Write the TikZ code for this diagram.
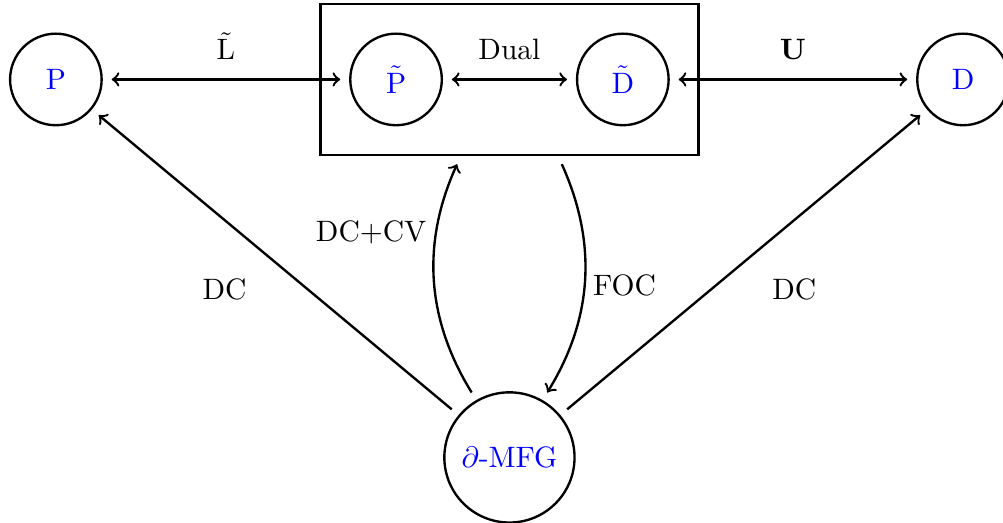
\documentclass[tikz,border=0pt]{standalone}
\usepackage{tikz}
\usetikzlibrary{calc,fit,positioning}

\begin{document}
\begin{tikzpicture}[thick,
        state/.style={circle,draw,text=blue,minimum size=1.09cm},
        link/.style={shorten >=3pt,shorten <=3pt}]
        \useasboundingbox (-0.665,-5.28) rectangle (11.276,0.946);
        \node[state] (P) at (0,0) {P};
        \node[state] (Pt) at (4.05,0) {$\tilde{\mathrm{P}}$};
        \node[state] (Dt) at (6.75,0) {$\tilde{\mathrm{D}}$};
        \node[state] (D) at (10.8,0) {D};
        \node[state,minimum size=1.55cm] (MFG) at (5.4,-4.5) {$\partial$-MFG};
        \node[draw,fit=(Pt)(Dt),inner sep=0.34cm] (box) {};
        \draw[<->,link] (P) -- node[above=3pt] {$\tilde{\mathrm{L}}$} (Pt);
        \draw[<->,link] (Pt) -- node[above=3pt] {Dual} (Dt);
        \draw[<->,link] (Dt) -- node[above=3pt] {$\mathbf{U}$} (D);
        \draw[->,link] (MFG) -- node[below left=2pt and 6pt] {DC} (P);
        \draw[->,link] (MFG) -- node[below right=2pt and 6pt] {DC} (D);
        \draw[->,link] (MFG.120) to[bend left=28] node[pos=0.7,left] {DC+CV} ([xshift=-0.58cm]box.south);
        \draw[->,link] ([xshift=0.58cm]box.south) to[bend left=28] node[pos=0.52,right=-0.5pt] {FOC} (MFG.60);
    \end{tikzpicture}
\end{document}
